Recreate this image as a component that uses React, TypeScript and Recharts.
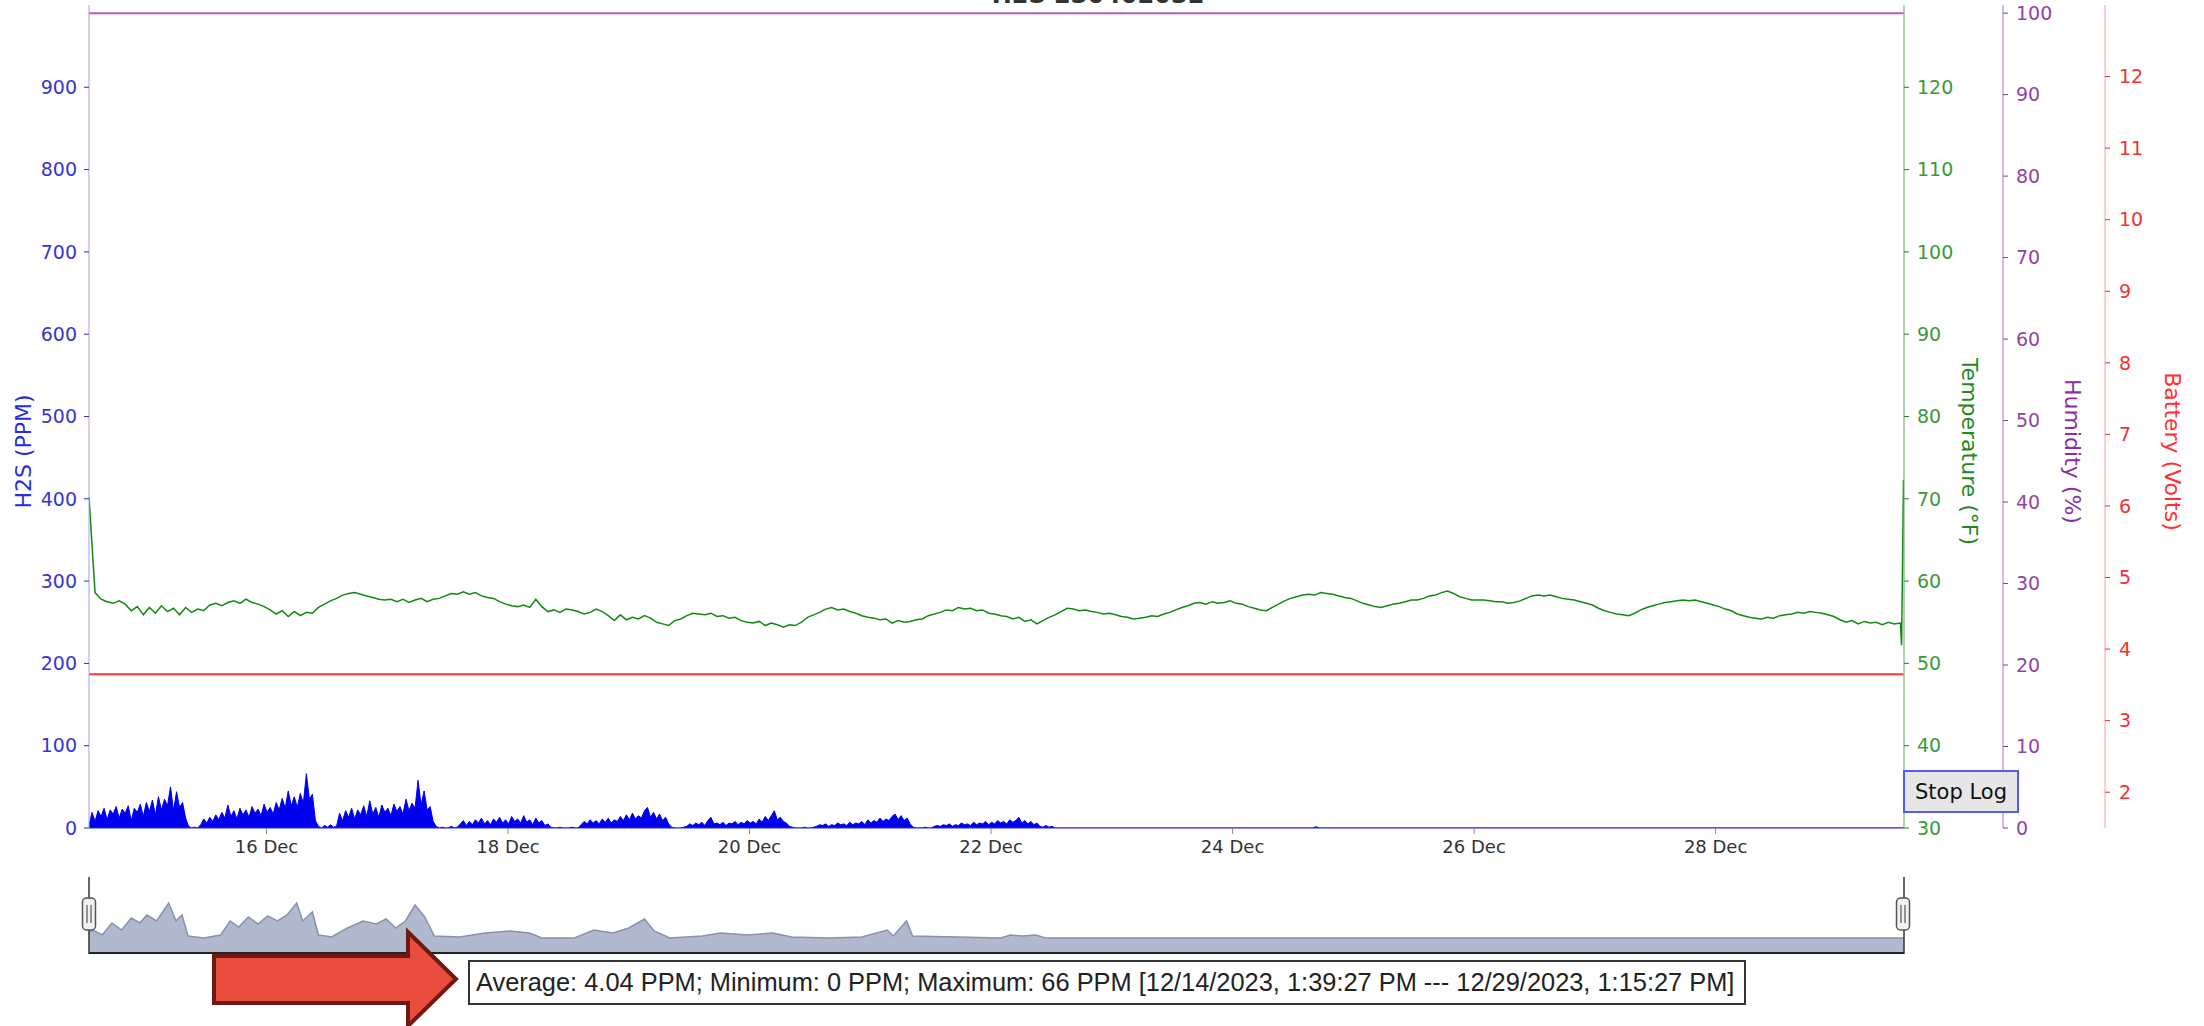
import { ComposedChart, Area, Line, XAxis, YAxis } from 'recharts';

// H2S readings, one every 0.025 day from 14.53 Dec (values in PPM)
const h2sStart = 14.53;
const h2sStep = 0.025;
const h2sValues = [
  3, 19, 8, 21, 14, 24, 10, 22, 17, 26, 12, 23, 18, 27, 9, 24, 19, 29, 14, 31,
  20, 34, 16, 38, 22, 35, 27, 50, 21, 44, 25, 31, 12, 2, 0, 1, 0,
  4, 11, 6, 13, 8, 16, 10, 19, 12, 28, 14, 21, 11, 24, 16, 22, 13, 26, 18, 23,
  15, 29, 19, 25, 17, 31, 22, 36, 24, 45, 27, 38, 25, 42, 30, 66, 35, 41, 9,
  2, 0, 3, 1, 4, 1, 2,
  18, 9, 21, 13, 24, 11, 22, 16, 27, 14, 33, 17, 25, 13, 28, 19, 24, 15, 29, 20,
  26, 17, 35, 21, 30, 24, 58, 28, 45, 22, 26, 8,
  2, 0, 1, 0, 0, 2, 0, 1,
  5, 9, 3, 8, 4, 10, 6, 12, 5, 9, 4, 11, 7, 13, 6, 10, 5, 14, 8, 11,
  6, 15, 7, 10, 4, 12, 6, 9, 3, 5,
  1, 0, 0, 1, 0, 0, 0, 1, 0, 0,
  4, 8, 5, 10, 6, 9, 5, 11, 7, 12, 6, 10, 8, 14, 9, 16, 10, 18, 11, 15,
  12, 21, 25, 13, 19, 11, 17, 9, 13, 5,
  1, 0, 0, 0, 1,
  2, 5, 3, 6, 4, 7, 3, 9, 13, 5, 6, 4, 7, 3, 6, 5, 8, 4, 7, 5,
  9, 6, 8, 5, 11, 7, 14, 9, 15, 21, 10, 13, 8, 6,
  2, 1, 0, 0, 0, 1, 0, 0, 1,
  2, 4, 3, 5, 2, 4, 3, 6, 4, 5, 3, 7, 4, 6, 5, 8, 4, 10, 6, 9,
  7, 12, 8, 11, 9, 14, 17, 10, 15, 9, 12, 5,
  1, 0, 0, 0, 1, 0, 0,
  2, 3, 2, 4, 3, 5, 2, 4, 3, 6, 4, 5, 3, 7, 4, 6, 5, 8, 4, 7,
  5, 9, 6, 8, 5, 10, 7, 9, 13, 6, 9, 5, 8, 4, 6,
  2, 1, 3, 1, 2, 0, 0,
];
const h2sTailDays = [22.6, 24.66, 24.69, 24.72, 29.56];
const h2sTailValues = [0, 0, 1.5, 0, 0];

// temperature, one every 0.05 day from 14.53 Dec (°F)
const tempStart = 14.53;
const tempStep = 0.05;
const tempValues = [
  70.2, 58.6, 57.8, 57.5, 57.3, 57.6, 57.2, 56.4, 56.9, 55.9,
  56.8, 56.1, 57.0, 56.3, 56.7, 55.9, 56.8, 56.2, 56.6, 56.4,
  57.1, 57.3, 57.0, 57.4, 57.6, 57.3, 57.8, 57.4, 57.2, 56.9,
  56.5, 56.0, 56.4, 55.7, 56.3, 55.8, 56.2, 56.1, 56.8, 57.2,
  57.6, 57.9, 58.3, 58.5, 58.6, 58.4, 58.2, 58.0, 57.8, 57.7,
  57.8, 57.5, 57.8, 57.4, 57.7, 57.9, 57.5, 57.8, 57.9, 58.2,
  58.5, 58.4, 58.7, 58.4, 58.6, 58.2, 58.0, 57.9, 57.5, 57.2,
  57.0, 56.9, 57.1, 56.8, 57.8, 56.9, 56.3, 56.5, 56.2, 56.6,
  56.5, 56.3, 56.0, 56.2, 56.6, 56.3, 55.8, 55.2, 55.9, 55.3,
  55.6, 55.4, 55.8, 55.5, 55.0, 54.8, 54.6, 55.2, 55.4, 55.8,
  56.1, 56.0, 55.9, 56.1, 55.7, 55.8, 55.5, 55.6, 55.2, 55.0,
  54.9, 55.1, 54.6, 54.9, 54.7, 54.4, 54.7, 54.6, 55.0, 55.6,
  55.9, 56.2, 56.6, 56.8, 56.5, 56.6, 56.3, 56.1, 55.8, 55.6,
  55.5, 55.3, 55.4, 54.9, 55.2, 55.0, 55.1, 55.3, 55.4, 55.8,
  56.0, 56.2, 56.5, 56.4, 56.8, 56.6, 56.7, 56.4, 56.5, 56.1,
  56.0, 55.8, 55.7, 55.4, 55.6, 55.1, 55.3, 54.8, 55.2, 55.6,
  55.9, 56.3, 56.7, 56.6, 56.4, 56.5, 56.3, 56.2, 56.0, 56.1,
  55.9, 55.7, 55.6, 55.4, 55.5, 55.6, 55.8, 55.7, 56.0, 56.2,
  56.5, 56.8, 57.0, 57.3, 57.4, 57.2, 57.5, 57.3, 57.4, 57.6,
  57.3, 57.2, 56.9, 56.7, 56.5, 56.4, 56.8, 57.2, 57.6, 57.9,
  58.1, 58.3, 58.4, 58.3, 58.6, 58.5, 58.4, 58.2, 58.0, 57.9,
  57.6, 57.3, 57.1, 56.9, 56.8, 57.0, 57.2, 57.3, 57.5, 57.7,
  57.7, 57.9, 58.2, 58.3, 58.6, 58.8, 58.5, 58.1, 57.9, 57.7,
  57.7, 57.7, 57.6, 57.5, 57.5, 57.3, 57.4, 57.6, 57.9, 58.2,
  58.3, 58.2, 58.3, 58.1, 57.9, 57.8, 57.7, 57.5, 57.3, 57.1,
  56.7, 56.4, 56.2, 56.0, 55.9, 55.8, 56.1, 56.5, 56.8, 57.0,
  57.2, 57.4, 57.5, 57.6, 57.7, 57.6, 57.7, 57.5, 57.3, 57.1,
  56.9, 56.6, 56.4, 56.0, 55.8, 55.6, 55.5, 55.4, 55.6, 55.5,
  55.8, 55.9, 56.0, 56.2, 56.1, 56.3, 56.2, 56.1, 55.9, 55.7,
  55.3, 55.0, 55.2, 54.8, 55.1, 54.9, 55.0, 54.7, 55.0, 54.8,
  54.9,
];
const tempTailDays = [29.54, 29.556];
const tempTailValues = [52.2, 72.3];

const humidityDays = [14.53, 29.556];
const humidityValues = [100, 100];

const batteryDays = [14.53, 29.556];
const batteryValues = [3.65, 3.65];

// navigator (grouped / averaged H2S)
const navDays = [
  14.53, 14.56, 14.64, 14.72, 14.8, 14.88, 14.95, 15.01, 15.09, 15.14,
  15.19, 15.25, 15.3, 15.35, 15.48, 15.62, 15.7, 15.77, 15.85, 15.93,
  16.01, 16.09, 16.17, 16.25, 16.3, 16.38, 16.43, 16.54, 16.67, 16.8,
  16.91, 16.99, 17.07, 17.15, 17.23, 17.31, 17.39, 17.6, 17.81, 18.02,
  18.18, 18.28, 18.55, 18.71, 18.87, 19.0, 19.13, 19.21, 19.34, 19.61,
  19.76, 19.98, 20.19, 20.35, 20.66, 20.93, 21.14, 21.19, 21.3, 21.35,
  22.08, 22.16, 22.26, 22.37, 22.45, 29.56,
];
const navValues = [
  6, 8, 3, 15, 8, 20, 15, 23, 17, 26,
  35, 17, 23, 2, 0, 3, 17, 11, 21, 14,
  22, 17, 23, 35, 17, 26, 3, 1, 10, 17,
  14, 19, 10, 17, 33, 21, 2, 1, 5, 7,
  5, 0, 0, 8, 5, 10, 19, 7, 0, 2,
  5, 3, 5, 1, 0, 1, 8, 2, 17, 2,
  0, 3, 2, 3, 0, 0,
];

const dateTicks = [16, 18, 20, 22, 24, 26, 28];
const h2sTicks = [0, 100, 200, 300, 400, 500, 600, 700, 800, 900];
const tempTicks = [30, 40, 50, 60, 70, 80, 90, 100, 110, 120];
const humTicks = [0, 10, 20, 30, 40, 50, 60, 70, 80, 90, 100];
const batTicks = [2, 3, 4, 5, 6, 7, 8, 9, 10, 11, 12];

const xDomain: [number, number] = [14.53, 29.56];

type Row = { d: number; h2s?: number; temp?: number; hum?: number; bat?: number };

function buildRows(): Row[] {
  const rows: Row[] = [];
  h2sValues.forEach((v, i) => rows.push({ d: +(h2sStart + i * h2sStep).toFixed(4), h2s: v }));
  h2sTailDays.forEach((d, i) => rows.push({ d, h2s: h2sTailValues[i] }));
  tempValues.forEach((v, i) => rows.push({ d: +(tempStart + i * tempStep).toFixed(4), temp: v }));
  tempTailDays.forEach((d, i) => rows.push({ d, temp: tempTailValues[i] }));
  humidityDays.forEach((d, i) => rows.push({ d, hum: humidityValues[i] }));
  batteryDays.forEach((d, i) => rows.push({ d, bat: batteryValues[i] }));
  return rows.sort((a, b) => a.d - b.d);
}

const chartRows = buildRows();
const navRows = navDays.map((d, i) => ({ d, v: navValues[i] }));

const FONT = 'DejaVu Sans, Verdana, sans-serif';

function axisTitle(text: string, color: string, dx: number, angle: number) {
  return (props: any) => {
    const vb = props.viewBox || { x: 0, y: 0, width: 0, height: 0 };
    const cx = vb.x + vb.width / 2 + dx;
    const cy = vb.y + vb.height / 2 + 35;
    return (
      <text
        x={cx}
        y={cy}
        transform={`rotate(${angle} ${cx} ${cy})`}
        textAnchor="middle"
        dominantBaseline="central"
        fill={color}
        fontSize={22}
        fontFamily={FONT}
      >
        {text}
      </text>
    );
  };
}

export default function App() {
  return (
    <div
      style={{
        position: 'absolute',
        left: 0,
        top: 0,
        width: 2204,
        height: 1026,
        background: '#fff',
        overflow: 'hidden',
        fontFamily: FONT,
      }}
    >
      <div style={{ position: 'absolute', left: 0, top: 0 }}>
        <ComposedChart
          width={2204}
          height={870}
          data={chartRows}
          margin={{ top: 5, right: 0, bottom: 0, left: 0 }}
        >
          <XAxis
            dataKey="d"
            type="number"
            domain={xDomain}
            ticks={dateTicks}
            interval={0}
            allowDataOverflow
            height={42}
            tickFormatter={(d) => `${d} Dec`}
            axisLine={{ stroke: '#2b2bd0' }}
            tickLine={{ stroke: '#888' }}
            tickSize={6}
            tickMargin={6}
            tick={{ fill: '#333', fontSize: 18, fontFamily: FONT }}
          />
          <YAxis
            yAxisId="h2s"
            orientation="left"
            width={89}
            type="number"
            domain={[0, 1000]}
            ticks={h2sTicks}
            interval={0}
            allowDataOverflow
            axisLine={{ stroke: '#a0a0ff' }}
            tickLine={{ stroke: '#3030b0' }}
            tickSize={5}
            tickMargin={7}
            tick={{ fill: '#3535d5', fontSize: 19, fontFamily: FONT }}
            label={axisTitle('H2S (PPM)', '#2b2be0', -21, -90)}
          />
          {/* right axes are stacked outward in id order: a_temp, b_hum, c_bat */}
          <YAxis
            yAxisId="a_temp"
            orientation="right"
            width={99}
            type="number"
            domain={[30, 130]}
            ticks={tempTicks}
            interval={0}
            allowDataOverflow
            axisLine={{ stroke: '#5fa85f' }}
            tickLine={{ stroke: '#2f7a2f' }}
            tickSize={5}
            tickMargin={8}
            tick={{ fill: '#3a9a3a', fontSize: 19, fontFamily: FONT }}
            label={axisTitle('Temperature (°F)', '#1f8a1f', 16, 90)}
          />
          <YAxis
            yAxisId="b_hum"
            orientation="right"
            width={102}
            type="number"
            domain={[0, 101]}
            ticks={humTicks}
            interval={0}
            allowDataOverflow
            axisLine={{ stroke: '#a77bbd' }}
            tickLine={{ stroke: '#7a3f8f' }}
            tickSize={5}
            tickMargin={8}
            tick={{ fill: '#9044a4', fontSize: 19, fontFamily: FONT }}
            label={axisTitle('Humidity (%)', '#8a2fa0', 18, 90)}
          />
          <YAxis
            yAxisId="c_bat"
            orientation="right"
            width={99}
            type="number"
            domain={[1.5, 13]}
            ticks={batTicks}
            interval={0}
            allowDataOverflow
            axisLine={{ stroke: '#ff9f9f' }}
            tickLine={{ stroke: '#e03030' }}
            tickSize={5}
            tickMargin={9}
            tick={{ fill: '#ee3333', fontSize: 19, fontFamily: FONT }}
            label={axisTitle('Battery (Volts)', '#ff3030', 18, 90)}
          />
          <Area
            yAxisId="h2s"
            dataKey="h2s"
            type="linear"
            stroke="#0000f0"
            strokeWidth={1}
            fill="#0000ee"
            fillOpacity={1}
            connectNulls
            dot={false}
            activeDot={false}
            isAnimationActive={false}
          />
          <Line
            yAxisId="c_bat"
            dataKey="bat"
            type="linear"
            stroke="#ff3333"
            strokeWidth={2}
            connectNulls
            dot={false}
            activeDot={false}
            isAnimationActive={false}
          />
          <Line
            yAxisId="a_temp"
            dataKey="temp"
            type="linear"
            stroke="#128a12"
            strokeWidth={1.5}
            connectNulls
            dot={false}
            activeDot={false}
            isAnimationActive={false}
          />
          <Line
            yAxisId="b_hum"
            dataKey="hum"
            type="linear"
            stroke="#b85cb8"
            strokeWidth={2}
            connectNulls
            dot={false}
            activeDot={false}
            isAnimationActive={false}
          />
        </ComposedChart>
      </div>

      {/* navigator */}
      <div style={{ position: 'absolute', left: 0, top: 880 }}>
        <ComposedChart
          width={2204}
          height={73}
          data={navRows}
          margin={{ top: 15, right: 300, bottom: 0, left: 89 }}
        >
          <XAxis dataKey="d" type="number" domain={xDomain} allowDataOverflow hide />
          <YAxis type="number" domain={[-15, 43]} allowDataOverflow hide width={0} />
          <Area
            dataKey="v"
            type="linear"
            baseValue={-15}
            stroke="#8692ae"
            strokeWidth={1.5}
            fill="#b0b9cd"
            fillOpacity={1}
            dot={false}
            activeDot={false}
            isAnimationActive={false}
          />
        </ComposedChart>
      </div>

      <svg
        width={2204}
        height={1026}
        style={{ position: 'absolute', left: 0, top: 0, pointerEvents: 'none' }}
      >
        <text x={1098} y={3} textAnchor="middle" fontSize={24} fontWeight="bold" fill="#333" fontFamily={FONT}>
          H2S 230402032
        </text>
        {/* navigator outline and handles */}
        <line x1={89} y1={953} x2={1904} y2={953} stroke="#222" strokeWidth={2} />
        <line x1={89} y1={877} x2={89} y2={954} stroke="#333" strokeWidth={1.5} />
        <line x1={1904} y1={877} x2={1904} y2={954} stroke="#333" strokeWidth={1.5} />
        {[89, 1903].map((hx) => (
          <g key={hx}>
            <rect x={hx - 6.5} y={898} width={13} height={32} rx={4} fill="#f2f2f2" stroke="#555" strokeWidth={1.5} />
            <line x1={hx - 2} y1={905} x2={hx - 2} y2={923} stroke="#555" strokeWidth={1.2} />
            <line x1={hx + 2} y1={905} x2={hx + 2} y2={923} stroke="#555" strokeWidth={1.2} />
          </g>
        ))}
        {/* annotation arrow */}
        <polygon
          points="214,956 408,956 408,932 456,979 408,1026 408,1003 214,1003"
          fill="#e74c3c"
          stroke="#6e1a12"
          strokeWidth={4}
          strokeLinejoin="miter"
        />
      </svg>

      <div
        style={{
          position: 'absolute',
          left: 1903,
          top: 770,
          width: 116,
          height: 43,
          boxSizing: 'border-box',
          border: '2px solid #4f5df0',
          background: '#e6e6e6',
          display: 'flex',
          alignItems: 'center',
          justifyContent: 'center',
          fontSize: 21,
          color: '#111',
          fontFamily: FONT,
        }}
      >
        Stop Log
      </div>

      <div
        style={{
          position: 'absolute',
          left: 468,
          top: 960,
          width: 1278,
          height: 45,
          boxSizing: 'border-box',
          border: '2px solid #333',
          background: '#fff',
          display: 'flex',
          alignItems: 'center',
          paddingLeft: 6,
          whiteSpace: 'nowrap',
          fontSize: 25.4,
          color: '#222',
          fontFamily: 'Liberation Sans, Arial, sans-serif',
        }}
      >
        Average: 4.04 PPM; Minimum: 0 PPM; Maximum: 66 PPM [12/14/2023, 1:39:27 PM --- 12/29/2023, 1:15:27 PM]
      </div>
    </div>
  );
}
